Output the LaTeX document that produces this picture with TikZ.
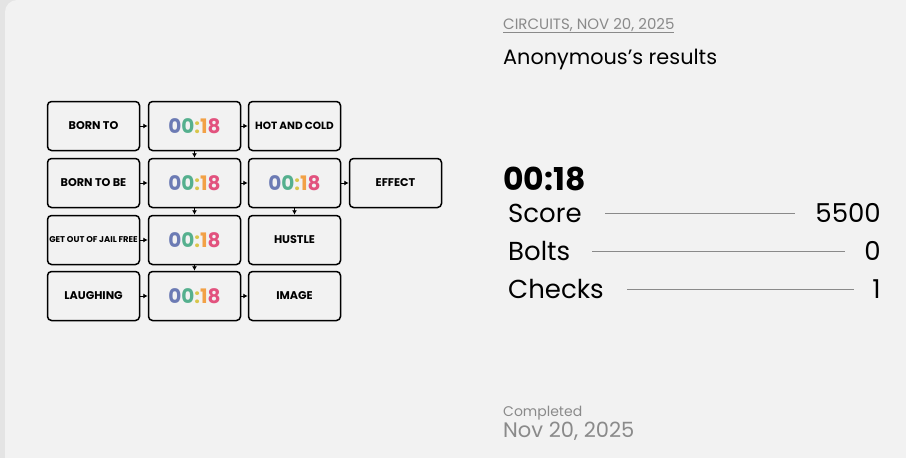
\documentclass[tikz,border=0pt]{standalone}
\usepackage{fontspec}
\setmainfont{Poppins}
\usetikzlibrary{arrows.meta}
\definecolor{bgcard}{HTML}{F2F2F2}
\definecolor{bgedge}{HTML}{E4E4E4}
\definecolor{greytxt}{HTML}{8A8A8A}
\definecolor{tA}{HTML}{6C7BB4}
\definecolor{tB}{HTML}{55B08E}
\definecolor{tC}{HTML}{D9C64A}
\definecolor{tD}{HTML}{F2A146}
\definecolor{tE}{HTML}{E2527E}
\newcommand\tmrtext{{\bfseries\color{tA}0\color{tB}0\color{tC}:\color{tD}1\color{tE}8}}
\tikzset{
  boxn/.style={draw=black, line width=1.5pt, rounded corners=4pt, fill=bgcard,
    minimum width=92pt, minimum height=49pt, inner sep=0pt, font=\fontsize{11.2}{12}\selectfont\bfseries},
  tmrbox/.style={boxn, font=\fontsize{20}{22}\selectfont},
  conn/.style={-{Latex[length=4.5pt,width=5pt]}, line width=1pt, black},
  rline/.style={draw=greytxt, line width=0.8pt},
  lbl/.style={anchor=base west, inner sep=0pt},
  val/.style={anchor=base east, inner sep=0pt}
}
\begin{document}
\begin{tikzpicture}[x=1pt,y=-1pt]
\useasboundingbox (0,0) rectangle (906,458);
\fill[bgedge] (0,0) rectangle (906,458);
\fill[bgcard, rounded corners=12pt] (5,0) rectangle (930,480);

% boxes
\node[boxn] (a1) at (93.5,126) {BORN TO};
\node[tmrbox] (b1) at (194.5,126) {\tmrtext};
\node[boxn,font=\fontsize{10.5}{11}\selectfont\bfseries] (c1) at (294.5,126) {HOT AND COLD};
\node[boxn] (a2) at (93.5,183) {BORN TO BE};
\node[tmrbox] (b2) at (194.5,183) {\tmrtext};
\node[tmrbox] (c2) at (294.5,183) {\tmrtext};
\node[boxn] (d2) at (395.5,183) {EFFECT};
\node[boxn,font=\fontsize{8.4}{9}\selectfont\bfseries] (a3) at (93.5,240) {GET OUT OF JAIL FREE};
\node[tmrbox] (b3) at (194.5,240) {\tmrtext};
\node[boxn] (c3) at (294.5,240) {HUSTLE};
\node[boxn] (a4) at (93.5,296) {LAUGHING};
\node[tmrbox] (b4) at (194.5,296) {\tmrtext};
\node[boxn] (c4) at (294.5,296) {IMAGE};

% connectors
\draw[conn] (a1.east) -- (b1.west);
\draw[conn] (b1.east) -- (c1.west);
\draw[conn] (a2.east) -- (b2.west);
\draw[conn] (b2.east) -- (c2.west);
\draw[conn] (c2.east) -- (d2.west);
\draw[conn] (a3.east) -- (b3.west);
\draw[conn] (a4.east) -- (b4.west);
\draw[conn] (b4.east) -- (c4.west);
\draw[conn] (b1.south) -- (b2.north);
\draw[conn] (b2.south) -- (b3.north);
\draw[conn] (b3.south) -- (b4.north);
\draw[conn] (c2.south) -- (c3.north);

% right panel
\node[lbl, text=greytxt, font=\fontsize{15}{16}\selectfont] (hdr) at (503,29) {\underline{CIRCUITS, NOV 20, 2025}};
\node[lbl, font=\fontsize{20.8}{22}\selectfont] (who) at (503,64) {Anonymous{\char"0027}s results};
\node[lbl, font=\fontsize{31.5}{33}\selectfont\bfseries] (time) at (503,190) {00:18};
\node[lbl, font=\fontsize{26}{28}\selectfont] (sL) at (508,222) {Score};
\node[val, font=\fontsize{26}{28}\selectfont] (sV) at (881,222) {5500};
\node[lbl, font=\fontsize{26}{28}\selectfont] (bL) at (508,260) {Bolts};
\node[val, font=\fontsize{26}{28}\selectfont] (bV) at (881,260) {0};
\node[lbl, font=\fontsize{26}{28}\selectfont] (cL) at (508,298) {Checks};
\node[val, font=\fontsize{26}{28}\selectfont] (cV) at (881,298) {1};
\coordinate (s1) at (605,213); \coordinate (s2) at (795,213);
\coordinate (b1l) at (592,251); \coordinate (b2l) at (845,251);
\coordinate (c1l) at (627,289); \coordinate (c2l) at (854,289);
\draw[rline] (s1) -- (s2);
\draw[rline] (b1l) -- (b2l);
\draw[rline] (c1l) -- (c2l);
\node[lbl, text=greytxt, font=\fontsize{14}{15}\selectfont] (comp) at (503,416) {Completed};
\node[lbl, text=greytxt, font=\fontsize{21}{22}\selectfont] (date) at (503,437) {Nov 20, 2025};
\end{tikzpicture}
\end{document}
